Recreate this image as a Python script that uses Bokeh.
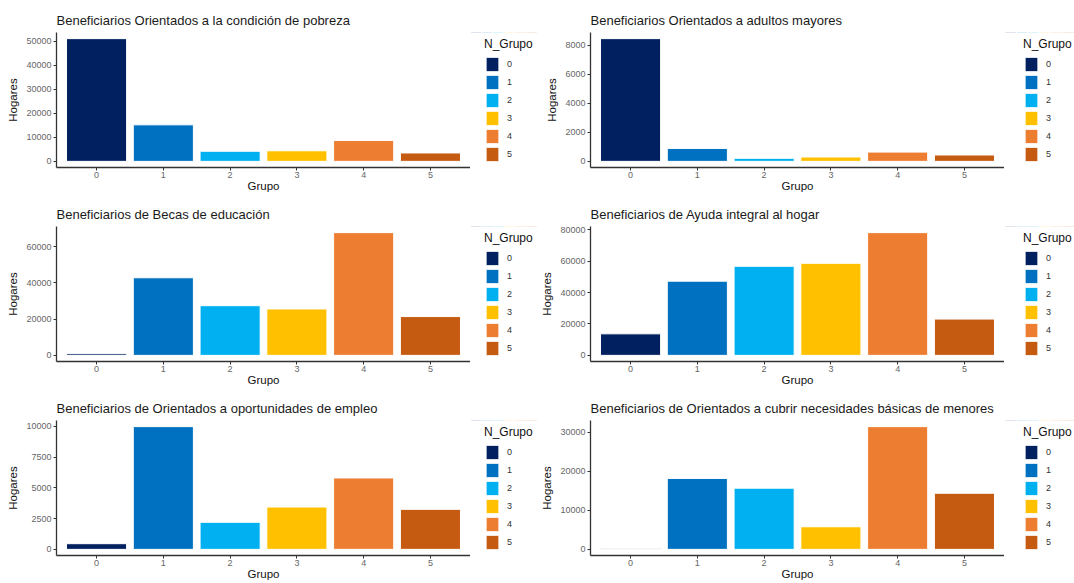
from bokeh.plotting import figure
from bokeh.layouts import gridplot
from bokeh.models import (ColumnDataSource, FactorRange, Range1d, FixedTicker,
                          Legend, LegendItem, BasicTickFormatter)
from bokeh.embed import file_html
from bokeh.resources import INLINE

grupos = ["0", "1", "2", "3", "4", "5"]
colores = ["#002060", "#0070C0", "#00B0F0", "#FFC000", "#ED7D31", "#C55A11"]

titulo_pobreza = "Beneficiarios Orientados a la condición de pobreza"
hogares_pobreza = [51100, 15200, 4200, 4400, 8700, 3500]
ticks_pobreza = [0, 10000, 20000, 30000, 40000, 50000]

titulo_adultos = "Beneficiarios Orientados a adultos mayores"
hogares_adultos = [8460, 890, 210, 300, 640, 440]
ticks_adultos = [0, 2000, 4000, 6000, 8000]

titulo_becas = "Beneficiarios de Becas de educación"
hogares_becas = [900, 42800, 27400, 25600, 67700, 21400]
ticks_becas = [0, 20000, 40000, 60000]

titulo_ayuda = "Beneficiarios de Ayuda integral al hogar"
hogares_ayuda = [13700, 47200, 56700, 58600, 78100, 23100]
ticks_ayuda = [0, 20000, 40000, 60000, 80000]

titulo_empleo = "Beneficiarios de Orientados a oportunidades de empleo"
hogares_empleo = [460, 9970, 2200, 3440, 5800, 3250]
ticks_empleo = [0, 2500, 5000, 7500, 10000]

titulo_menores = "Beneficiarios de Orientados a cubrir necesidades básicas de menores"
hogares_menores = [150, 18200, 15700, 5800, 31500, 14400]
ticks_menores = [0, 10000, 20000, 30000]

FONT = "Liberation Sans"
FRAME_W = 414
FRAME_H = 135
TOP = 32
BOTTOM = 27
FIG_H = TOP + FRAME_H + BOTTOM


def panel(titulo, valores, ticks, left_border, legend_w, legend_gap):
    src = ColumnDataSource(dict(grupo=grupos, hogares=valores, color=colores))
    ymax = max(valores)
    p = figure(frame_width=FRAME_W, frame_height=FRAME_H,
               x_range=FactorRange(factors=grupos, range_padding=0.1,
                                   range_padding_units="absolute"),
               y_range=Range1d(-0.05 * ymax, 1.05 * ymax),
               output_backend="svg", toolbar_location=None,
               min_border_left=left_border, min_border_right=0,
               min_border_top=TOP, min_border_bottom=BOTTOM)
    r = p.vbar(x="grupo", top="hogares", width=0.9, source=src,
               fill_color="color", line_color="white", line_width=1)

    p.title.text = titulo
    p.title.text_font = FONT
    p.title.text_font_size = "13px"
    p.title.text_font_style = "normal"
    p.title.text_color = "#1a1a1a"
    p.title.align = "left"

    p.outline_line_color = None
    p.xgrid.visible = False
    p.ygrid.visible = False
    p.background_fill_color = "white"
    p.border_fill_color = "white"

    p.yaxis.ticker = FixedTicker(ticks=ticks, minor_ticks=[])
    p.yaxis.formatter = BasicTickFormatter(use_scientific=False)

    for ax in (p.xaxis[0], p.yaxis[0]):
        ax.axis_line_color = "#333333"
        ax.axis_line_width = 1.3
        ax.major_tick_line_color = "#333333"
        ax.major_tick_out = 3
        ax.major_tick_in = 0
        ax.minor_tick_line_color = None
        ax.major_label_text_font = FONT
        ax.major_label_text_font_size = "9px"
        ax.major_label_text_color = "#666666"
        ax.major_label_standoff = 2
        ax.axis_label_text_font = FONT
        ax.axis_label_text_font_size = "11.5px"
        ax.axis_label_text_font_style = "normal"
        ax.axis_label_text_color = "#111111"
    p.xaxis.axis_label_standoff = -1
    p.xaxis.major_label_standoff = 1
    p.yaxis.axis_label_standoff = 4

    p.xaxis.axis_label = "Grupo"
    p.yaxis.axis_label = "Hogares"

    # legend figure (the key renderer lies outside its visible range)
    lf = figure(width=legend_w, height=FIG_H, x_range=FactorRange(factors=grupos),
                y_range=Range1d(-20, -10), x_axis_type=None, y_axis_type=None,
                title=None, output_backend="svg", toolbar_location=None,
                min_border_left=0, min_border_right=0,
                min_border_top=20, min_border_bottom=0)
    lf.outline_line_color = None
    lf.xgrid.visible = False
    lf.ygrid.visible = False
    lf.background_fill_color = "white"
    lf.border_fill_color = "white"
    lr = lf.vbar(x="grupo", top="hogares", bottom=0, width=0.9, source=src,
                 fill_color="color", line_color="white", line_width=1)
    legend = Legend(
        items=[LegendItem(label=g, renderers=[lr], index=i) for i, g in enumerate(grupos)],
        title="N_Grupo", location="center_left", orientation="vertical",
        glyph_width=16, glyph_height=18, label_height=18, spacing=0,
        padding=2, margin=legend_gap, label_standoff=7,
        label_text_font=FONT, label_text_font_size="9px", label_text_color="#333333",
        title_text_font=FONT, title_text_font_size="12px",
        title_text_font_style="normal", title_text_color="#111111",
        title_standoff=4,
        border_line_color=None, background_fill_alpha=0,
    )
    lf.add_layout(legend, "center")
    return p, lf


p1, l1 = panel(titulo_pobreza, hogares_pobreza, ticks_pobreza, 56, 67, 14)
p2, l2 = panel(titulo_adultos, hogares_adultos, ticks_adultos, 53, 70, 19)
p3, l3 = panel(titulo_becas, hogares_becas, ticks_becas, 56, 67, 14)
p4, l4 = panel(titulo_ayuda, hogares_ayuda, ticks_ayuda, 53, 70, 19)
p5, l5 = panel(titulo_empleo, hogares_empleo, ticks_empleo, 56, 67, 14)
p6, l6 = panel(titulo_menores, hogares_menores, ticks_menores, 53, 70, 19)

grid = gridplot([[p1, l1, p2, l2], [p3, l3, p4, l4], [p5, l5, p6, l6]],
                toolbar_location=None)

open("out.html", "w").write(file_html(grid, INLINE))
